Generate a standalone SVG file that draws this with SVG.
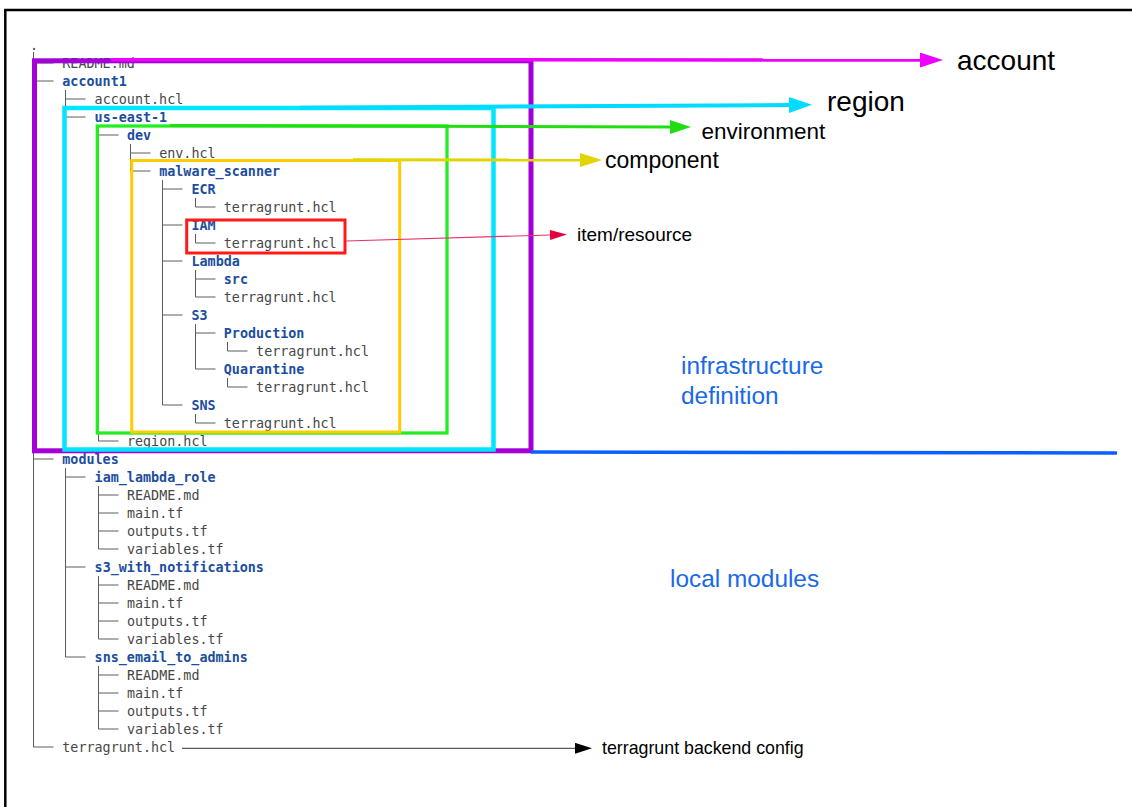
<svg xmlns="http://www.w3.org/2000/svg" width="1132" height="807" viewBox="0 0 1132 807">
<style>
.t{font-family:"DejaVu Sans Mono","Liberation Mono",monospace;font-size:13.4px}
.f{fill:#474747}
.d{fill:#1c4e9e;font-weight:bold}
.tree{fill:none;stroke:#5c5c5c;stroke-width:1}
.lbl{font-family:"Liberation Sans",Arial,sans-serif;fill:#000}
.blu{font-family:"Liberation Sans",Arial,sans-serif;fill:#1a68ea;font-size:24.4px}
.box{fill:none}
</style>
<defs>
<marker id="mMag" markerUnits="userSpaceOnUse" markerWidth="24" markerHeight="16" refX="0" refY="7.5" orient="auto"><path d="M0,0 L23,7.5 L0,15 z" fill="#ee00ff"/></marker>
<marker id="mCyan" markerUnits="userSpaceOnUse" markerWidth="24" markerHeight="16" refX="0" refY="8" orient="auto"><path d="M0,0 L23,8 L0,16 z" fill="#00dcff"/></marker>
<marker id="mGreen" markerUnits="userSpaceOnUse" markerWidth="22" markerHeight="15" refX="0" refY="7" orient="auto"><path d="M0,0 L21,7 L0,14 z" fill="#22dd11"/></marker>
<marker id="mYel" markerUnits="userSpaceOnUse" markerWidth="23" markerHeight="15" refX="0" refY="7" orient="auto"><path d="M0,0 L22,7 L0,14 z" fill="#e2d400"/></marker>
<marker id="mRed" markerUnits="userSpaceOnUse" markerWidth="18" markerHeight="11" refX="0" refY="5" orient="auto"><path d="M0,0 L17,5 L0,10 z" fill="#e4003c"/></marker>
<marker id="mBlk" markerUnits="userSpaceOnUse" markerWidth="18" markerHeight="12" refX="0" refY="5.5" orient="auto"><path d="M0,0 L17,5.5 L0,11 z" fill="#000"/></marker>
</defs>
<rect x="0" y="0" width="1132" height="807" fill="#fff"/>
<rect id="frame" x="5.3" y="10" width="1200" height="900" fill="none" stroke="#000" stroke-width="2.5"/>

<g id="tree-lines">
<path class="tree" d="M33.5,52V747 M65.5,90V117 M65.5,468V657 M98.5,126V441 M98.5,486V549 M98.5,576V639 M98.5,666V729 M130.5,144V171 M162.5,180V405 M195.5,198V207 M195.5,234V243 M195.5,270V297 M195.5,324V369 M195.5,414V423 M227.5,342V351 M227.5,378V387
M33.5,63H53.5 M33.5,81H53.5 M33.5,459H53.5 M33.5,747H53.5
M65.5,99H85.5 M65.5,117H85.5 M65.5,477H85.5 M65.5,567H85.5 M65.5,657H85.5
M98.5,135H118.5 M98.5,441H118.5 M98.5,495H118.5 M98.5,513H118.5 M98.5,531H118.5 M98.5,549H118.5 M98.5,585H118.5 M98.5,603H118.5 M98.5,621H118.5 M98.5,639H118.5 M98.5,675H118.5 M98.5,693H118.5 M98.5,711H118.5 M98.5,729H118.5
M130.5,153H150.5 M130.5,171H150.5
M162.5,189H182.5 M162.5,225H182.5 M162.5,261H182.5 M162.5,315H182.5 M162.5,405H182.5
M195.5,207H215.5 M195.5,243H215.5 M195.5,279H215.5 M195.5,297H215.5 M195.5,333H215.5 M195.5,369H215.5 M195.5,423H215.5
M227.5,351H247.5 M227.5,387H247.5"/>
</g>

<g id="tree-text" class="t">
<text class="f" x="30" y="50">.</text>
<text class="f" x="62.3" y="68">README.md</text>
<text class="d" x="62.3" y="86">account1</text>
<text class="f" x="94.6" y="104">account.hcl</text>
<text class="d" x="94.6" y="122">us-east-1</text>
<text class="d" x="126.9" y="140">dev</text>
<text class="f" x="159.2" y="158">env.hcl</text>
<text class="d" x="159.2" y="176">malware_scanner</text>
<text class="d" x="191.5" y="194">ECR</text>
<text class="f" x="223.8" y="212">terragrunt.hcl</text>
<text class="d" x="191.5" y="230">IAM</text>
<text class="f" x="223.8" y="248">terragrunt.hcl</text>
<text class="d" x="191.5" y="266">Lambda</text>
<text class="d" x="223.8" y="284">src</text>
<text class="f" x="223.8" y="302">terragrunt.hcl</text>
<text class="d" x="191.5" y="320">S3</text>
<text class="d" x="223.8" y="338">Production</text>
<text class="f" x="256.1" y="356">terragrunt.hcl</text>
<text class="d" x="223.8" y="374">Quarantine</text>
<text class="f" x="256.1" y="392">terragrunt.hcl</text>
<text class="d" x="191.5" y="410">SNS</text>
<text class="f" x="223.8" y="428">terragrunt.hcl</text>
<text class="f" x="126.9" y="446">region.hcl</text>
<text class="d" x="62.3" y="464">modules</text>
<text class="d" x="94.6" y="482">iam_lambda_role</text>
<text class="f" x="126.9" y="500">README.md</text>
<text class="f" x="126.9" y="518">main.tf</text>
<text class="f" x="126.9" y="536">outputs.tf</text>
<text class="f" x="126.9" y="554">variables.tf</text>
<text class="d" x="94.6" y="572">s3_with_notifications</text>
<text class="f" x="126.9" y="590">README.md</text>
<text class="f" x="126.9" y="608">main.tf</text>
<text class="f" x="126.9" y="626">outputs.tf</text>
<text class="f" x="126.9" y="644">variables.tf</text>
<text class="d" x="94.6" y="662">sns_email_to_admins</text>
<text class="f" x="126.9" y="680">README.md</text>
<text class="f" x="126.9" y="698">main.tf</text>
<text class="f" x="126.9" y="716">outputs.tf</text>
<text class="f" x="126.9" y="734">variables.tf</text>
<text class="f" x="62.3" y="752">terragrunt.hcl</text>
</g>

<g id="account-box"><rect class="box" x="34.5" y="60.8" width="496.5" height="390" stroke="#a200d6" stroke-width="5"/></g>
<g id="region-box"><rect class="box" x="64.5" y="108" width="429" height="341.5" stroke="#00e6ff" stroke-width="4.5"/></g>
<g id="environment-box"><rect class="box" x="97.3" y="126" width="349.7" height="307" stroke="#22ee22" stroke-width="3.3"/></g>
<g id="component-box"><rect class="box" x="131.7" y="160.5" width="268" height="271.5" stroke="#ffcc00" stroke-width="3"/></g>
<g id="item-box"><rect class="box" x="186.7" y="220" width="158.3" height="33" stroke="#ff1a1a" stroke-width="3"/></g>

<g id="connectors">
<line x1="111" y1="59.7" x2="920" y2="60" stroke="#ee00ff" stroke-width="3.5" marker-end="url(#mMag)"/>
<line x1="300" y1="107.8" x2="789" y2="105" stroke="#00dcff" stroke-width="4" marker-end="url(#mCyan)"/>
<line x1="170" y1="125.5" x2="670" y2="127" stroke="#22dd11" stroke-width="3" marker-end="url(#mGreen)"/>
<line x1="353" y1="159.8" x2="580" y2="160" stroke="#e2d400" stroke-width="3" marker-end="url(#mYel)"/>
<line x1="346" y1="241" x2="550" y2="235" stroke="#e8336a" stroke-width="1.2" marker-end="url(#mRed)"/>
<line x1="182" y1="748.3" x2="575" y2="748.3" stroke="#5c5c5c" stroke-width="1.2" marker-end="url(#mBlk)"/>
<line x1="531" y1="452" x2="1117" y2="453" stroke="#0a5fff" stroke-width="3.5"/>
</g>

<g id="labels">
<text class="lbl" x="957" y="70" style="font-size:28px">account</text>
<text class="lbl" x="827" y="111" style="font-size:28px">region</text>
<text class="lbl" x="701.5" y="139" style="font-size:22.5px">environment</text>
<text class="lbl" x="605" y="168" style="font-size:23px">component</text>
<text class="lbl" x="577" y="241" style="font-size:19px">item/resource</text>
<text class="lbl" x="602" y="754" style="font-size:17.8px">terragrunt backend config</text>
<text class="blu" x="681" y="374">infrastructure</text>
<text class="blu" x="681" y="404">definition</text>
<text class="blu" x="670" y="587">local modules</text>
</g>
</svg>
